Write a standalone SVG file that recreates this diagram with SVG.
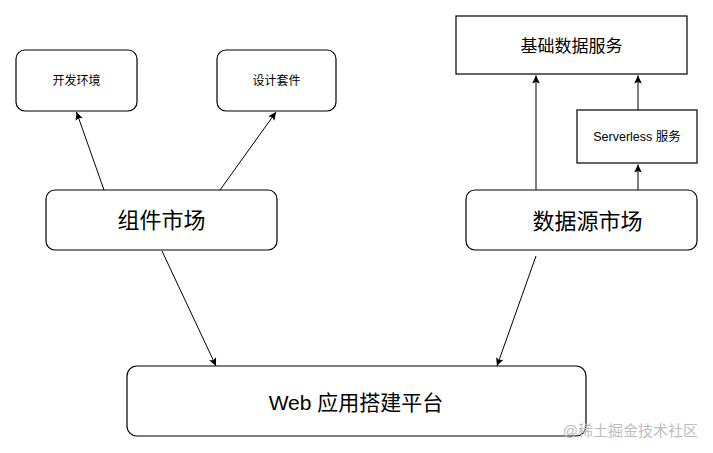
<svg xmlns="http://www.w3.org/2000/svg" width="713" height="453" viewBox="0 0 713 453">
<style>
.box{fill:#fff;stroke:#000;stroke-width:1.2}
.t{font-family:"Liberation Sans","Noto Sans CJK SC",sans-serif;fill:#000;text-anchor:middle;dominant-baseline:central}
.edge{stroke:#000;stroke-width:1;fill:none;marker-end:url(#arr)}
</style>
<defs>
<marker id="arr" markerUnits="userSpaceOnUse" markerWidth="10" markerHeight="10" viewBox="0 0 10 10" refX="9" refY="5" orient="auto">
<path d="M1,1.2 L9,5 L1,8.8 L2.6,5 Z" fill="#000"/>
</marker>
</defs>
<rect width="713" height="453" fill="#fff"/>
<g id="connectors">
<line class="edge" x1="104" y1="190" x2="76.5" y2="112"/>
<line class="edge" x1="220" y1="190" x2="276" y2="112"/>
<line class="edge" x1="536" y1="190" x2="536" y2="75.5"/>
<line class="edge" x1="638" y1="110" x2="638" y2="75.5"/>
<line class="edge" x1="638" y1="190" x2="638" y2="164.5"/>
<line class="edge" x1="162" y1="251" x2="216" y2="366"/>
<line class="edge" x1="536" y1="256" x2="497" y2="366"/>
</g>
<g id="kaifahuanjing">
<rect class="box" x="16" y="50" width="121" height="61" rx="9"/>
<text class="t" x="76.5" y="81" font-size="12">开发环境</text>
</g>
<g id="shejitaojian">
<rect class="box" x="217" y="50" width="119" height="61" rx="9"/>
<text class="t" x="276.5" y="81" font-size="12">设计套件</text>
</g>
<g id="zujianshichang">
<rect class="box" x="46" y="190" width="231" height="60" rx="9"/>
<text class="t" x="161.5" y="220" font-size="22">组件市场</text>
</g>
<g id="jichushujufuwu">
<rect class="box" x="456" y="16" width="231" height="58"/>
<text class="t" x="571.5" y="46" font-size="17">基础数据服务</text>
</g>
<g id="serverless">
<rect class="box" x="577" y="110" width="120" height="53"/>
<text class="t" x="637" y="137" font-size="12.5">Serverless 服务</text>
</g>
<g id="shujuyuanshichang">
<rect class="box" x="466" y="190" width="231" height="60" rx="9"/>
<text class="t" x="587.5" y="221" font-size="22">数据源市场</text>
</g>
<g id="webplatform">
<rect class="box" x="127" y="366" width="459" height="70" rx="10"/>
<text class="t" x="356" y="402" font-size="21">Web 应用搭建平台</text>
</g>
<text x="698" y="436" font-family="&quot;Liberation Sans&quot;,&quot;Noto Sans CJK SC&quot;,sans-serif" font-size="15" fill="#bdbdbd" text-anchor="end">@稀土掘金技术社区</text>
</svg>
